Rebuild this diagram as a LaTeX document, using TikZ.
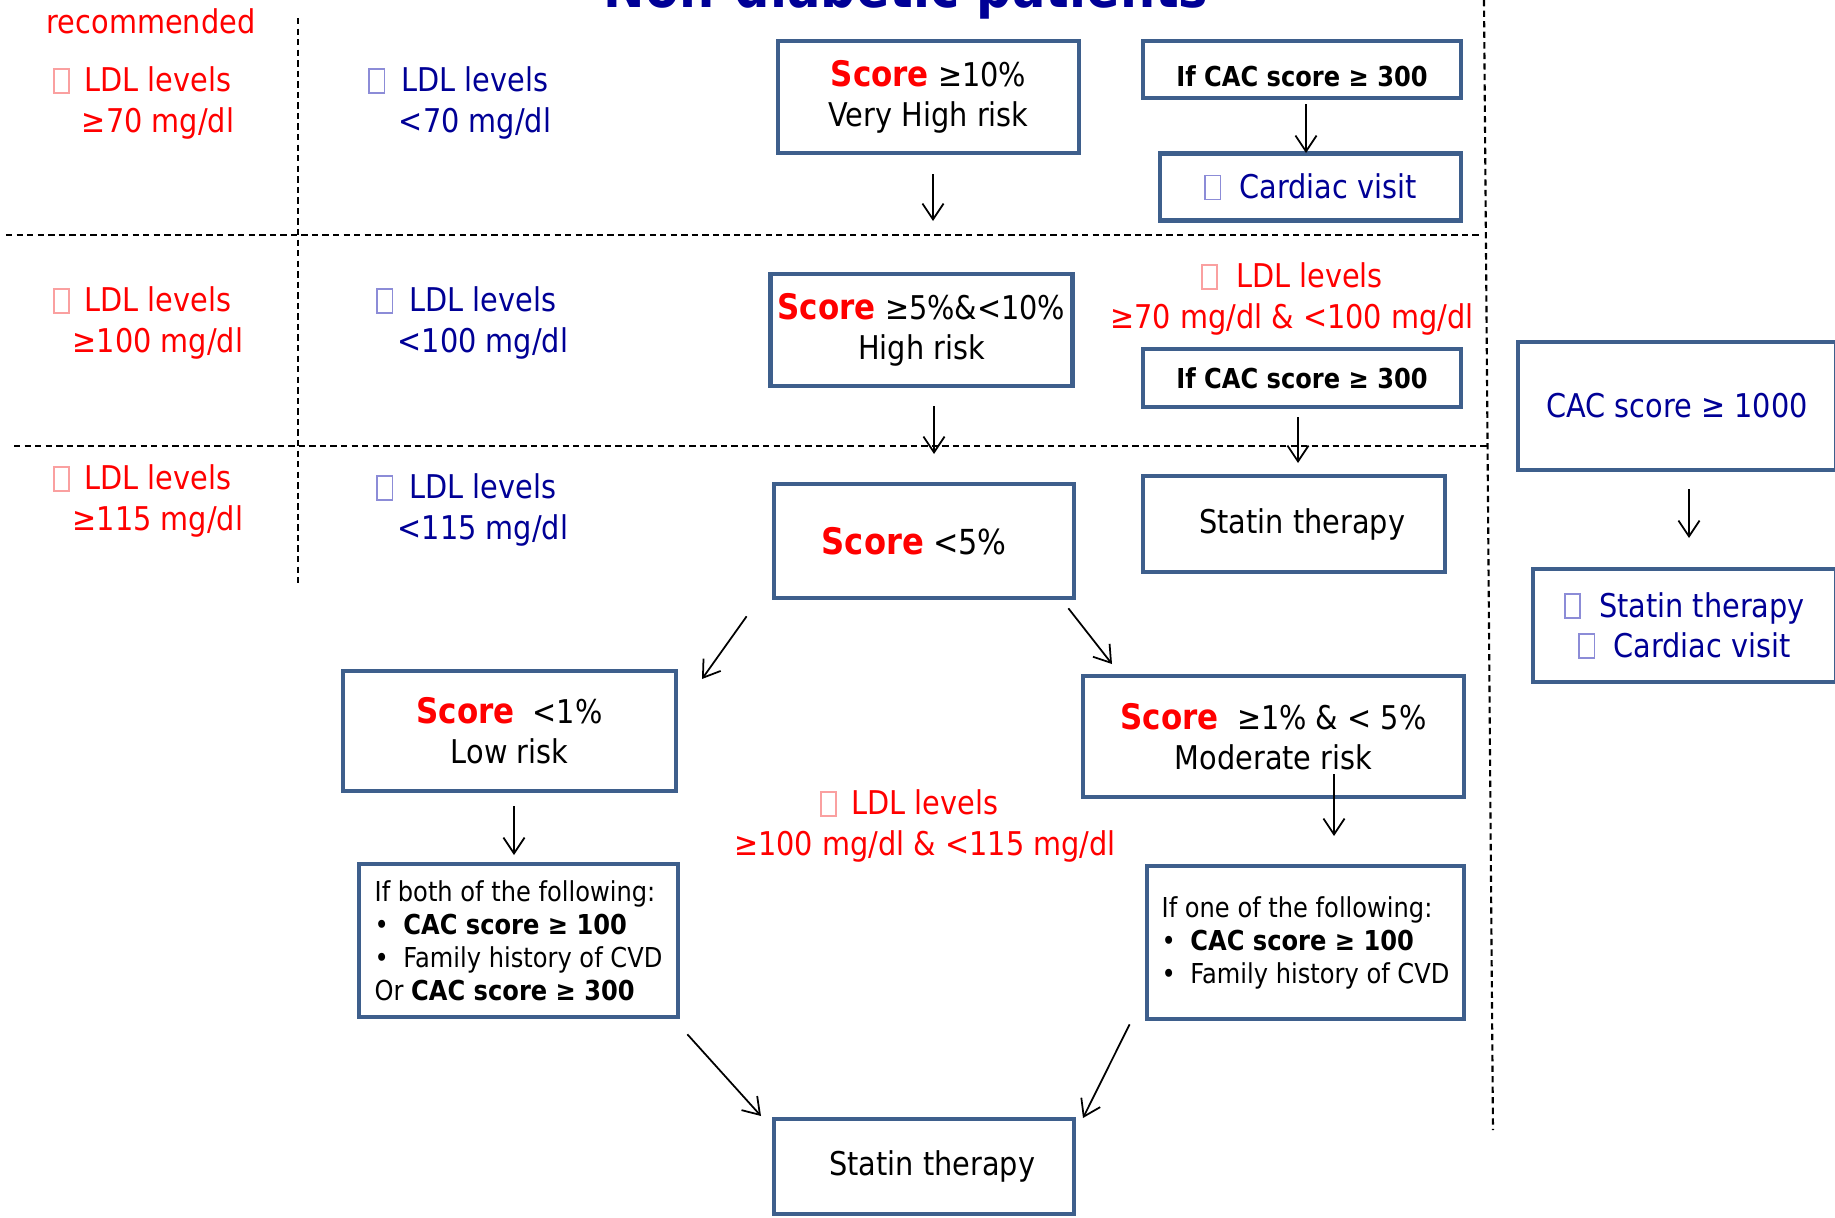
\documentclass[tikz,border=0pt]{standalone}
\usepackage{fontspec}
\setmainfont{DejaVu Sans}[FakeStretch=0.88]
\usepackage{tikz}
\usetikzlibrary{arrows.meta}

\definecolor{ldlred}{RGB}{255,0,0}
\definecolor{ldlblue}{RGB}{0,0,150}
\definecolor{boxline}{RGB}{62,95,140}
\definecolor{sqred}{RGB}{250,160,160}
\definecolor{sqblue}{RGB}{140,140,215}

\newcommand{\mainsz}{\fontsize{9.3}{11.4}\selectfont}
\newcommand{\smallsz}{\fontsize{7.8}{9.4}\selectfont}
\newcommand{\sqbox}[1]{{\color{#1}\setlength{\fboxsep}{0pt}\setlength{\fboxrule}{0.45pt}\fbox{\rule{0pt}{0.68em}\hspace{0.42em}}}}
\newcommand{\redsq}{\llap{\sqbox{sqred}\hspace{0.45em}}}
\newcommand{\bluesq}{\llap{\sqbox{sqblue}\hspace{0.5em}}}
\newcommand{\scoretxt}{{\fontsize{10}{12}\selectfont\bfseries\color{ldlred}Score}}
\newcommand{\itm}{\makebox[1.05em][l]{\textbullet}}

\begin{document}
\begin{tikzpicture}[x=0.01cm, y=-0.01cm,
    box/.style={draw=boxline, line width=1.3pt, fill=white, align=center, inner sep=2pt, font=\mainsz},
    cacbox/.style={box, font=\smallsz\bfseries},
    ldl/.style={align=center, font=\mainsz},
    arr/.style={-{Straight Barb[length=4.5pt,width=6pt]}, line width=0.5pt},
    sep/.style={dash pattern=on 1.8pt off 1.2pt, line width=0.6pt}]
    \useasboundingbox (0,0) rectangle (1835,1218);

    % --- title (cut by the top edge) ---
    \node[anchor=base, font=\fontsize{16}{18}\selectfont\bfseries, text=ldlblue] (title) at (906,8) {Non-diabetic patients};

    % --- dashed separators ---
    \draw[sep] (298,18) -- (298,585);
    \draw[sep] (6,235) -- (1482,235);
    \draw[sep] (14,446) -- (1489,446);
    \draw[sep] (1484,0) -- (1493,1130);

    % --- LDL targets, left columns ---
    \node[ldl, text=ldlred] (rec) at (151,21) {recommended};
    \node[ldl, text=ldlred] (red70) at (158,103) {\redsq LDL levels\\≥70 mg/dl};
    \node[ldl, text=ldlblue] (blue70) at (475,103) {\bluesq LDL levels\\<70 mg/dl};
    \node[ldl, text=ldlred] (red100) at (158,323) {\redsq LDL levels\\≥100 mg/dl};
    \node[ldl, text=ldlblue] (blue100) at (483,323) {\bluesq LDL levels\\<100 mg/dl};
    \node[ldl, text=ldlred] (red115) at (158,501) {\redsq LDL levels\\≥115 mg/dl};
    \node[ldl, text=ldlblue] (blue115) at (483,510) {\bluesq LDL levels\\<115 mg/dl};

    % --- score boxes ---
    \node[box, minimum width=3.01cm, minimum height=1.12cm] (vhigh) at (928.5,97) {\scoretxt\ ≥10\%\\[0pt]Very High risk};
    \node[box, minimum width=3.01cm, minimum height=1.12cm] (high) at (921.5,330) {\scoretxt\ ≥5\%\&<10\%\\[0pt]High risk};
    \node[box, minimum width=3.00cm, minimum height=1.14cm, text depth=0pt] (low5) at (924,541) {{\fontsize{10.4}{12}\selectfont\bfseries\color{ldlred}Score}\ {\fontsize{9.8}{12}\selectfont<5\%}\hspace{0.6em}};
    \node[box, minimum width=3.33cm, minimum height=1.20cm] (lowrisk) at (509.5,731) {\scoretxt\ \ <1\%\\Low risk};
    \node[box, minimum width=3.81cm, minimum height=1.21cm] (modrisk) at (1273.5,736.5) {\scoretxt\ \ ≥1\% \& < 5\%\\Moderate risk};

    % --- CAC boxes ---
    \node[cacbox, text height=9.4pt, text depth=0pt, minimum width=3.18cm, minimum height=0.57cm] (cac1) at (1302,69.5) {If CAC score ≥ 300};
    \node[box, text=ldlblue, minimum width=3.01cm, minimum height=0.67cm] (visit) at (1310.5,187) {\sqbox{sqblue}\hspace{0.55em}Cardiac visit};
    \node[ldl, text=ldlred] (red70100) at (1292,299) {\sqbox{sqred}\hspace{0.55em}LDL levels\\≥70 mg/dl \& <100 mg/dl};
    \node[cacbox, minimum width=3.18cm, minimum height=0.58cm] (cac2) at (1302,378) {If CAC score ≥ 300};
    \node[box, minimum width=3.02cm, minimum height=0.96cm] (statinr) at (1294,524) {\hspace{0.5em}Statin therapy};
    \node[box, text=ldlblue, minimum width=3.18cm, minimum height=1.28cm] (cac1000) at (1677,406) {CAC score ≥ 1000};
    \node[box, text=ldlblue, minimum width=3.03cm, minimum height=1.13cm] (statvisit) at (1684.5,625.5) {\sqbox{sqblue}\hspace{0.55em}Statin therapy\\\sqbox{sqblue}\hspace{0.55em}Cardiac visit};

    \node[box, font=\smallsz, align=left, minimum width=3.19cm, minimum height=1.53cm] (both) at (518.5,940.5) {If both of the following:\\\itm\textbf{CAC score ≥ 100}\\\itm Family history of CVD\\Or \textbf{CAC score ≥ 300}};
    \node[box, font=\smallsz, align=left, minimum width=3.17cm, minimum height=1.53cm] (one) at (1305.5,942.5) {If one of the following:\\\itm\textbf{CAC score ≥ 100}\\\itm Family history of CVD};
    \node[ldl, text=ldlred] (red100115) at (925,826) {\redsq LDL levels\\≥100 mg/dl \& <115 mg/dl};
    \node[box, minimum width=3.00cm, minimum height=0.95cm] (statinb) at (924,1166.5) {\hspace{0.5em}Statin therapy};

    % --- arrows ---
    \coordinate (t1) at (933,221);
    \coordinate (t2) at (1306,153);
    \coordinate (t3) at (934,454);
    \coordinate (t4) at (1298,463);
    \coordinate (t5) at (1689,538);
    \coordinate (t6) at (702,679);
    \coordinate (t7) at (1112,664);
    \coordinate (t8) at (514,855);
    \coordinate (t9) at (1334,836);
    \coordinate (t10) at (761,1116);
    \coordinate (t11) at (1083,1118);
    \draw[arr] (vhigh.south -| t1) ++(0,19) -- (t1);
    \draw[arr] (cac1.south -| t2) ++(0,4) -- (t2);
    \draw[arr] (high.south -| t3) ++(0,18) -- (t3);
    \draw[arr] (cac2.south -| t4) ++(0,8) -- (t4);
    \draw[arr] (cac1000.south -| t5) ++(0,17) -- (t5);
    \draw[arr] (low5.south west) ++(-25,16) -- (t6);
    \draw[arr] (low5.south east) ++(-8,8) -- (t7);
    \draw[arr] (lowrisk.south -| t8) ++(0,13) -- (t8);
    \draw[arr] (modrisk.south -| t9) ++(0,-25) -- (t9);
    \draw[arr] (both.south east) ++(7,15) -- (t10);
    \draw[arr] (one.south west) ++(-15,3) -- (t11);
\end{tikzpicture}
\end{document}
